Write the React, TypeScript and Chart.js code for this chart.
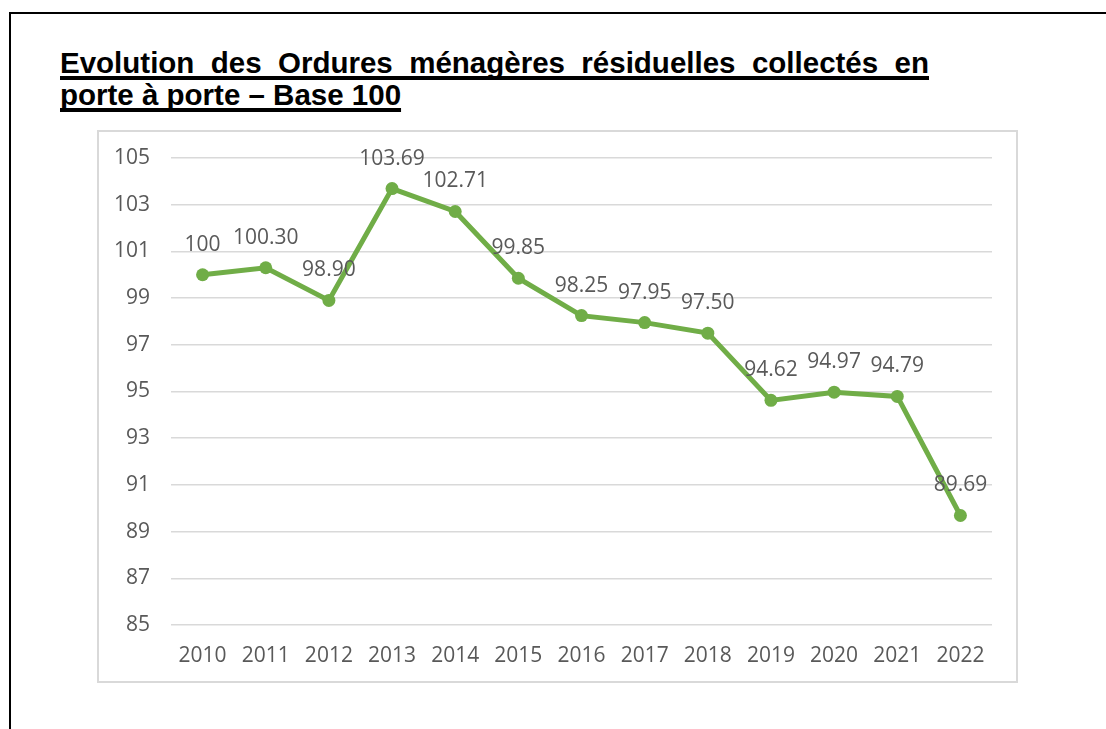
import React, { useEffect, useRef } from "react";
import { Chart, registerables } from "chart.js";

Chart.register(...registerables);

const years = ["2010", "2011", "2012", "2013", "2014", "2015", "2016", "2017", "2018", "2019", "2020", "2021", "2022"];
const values = [100, 100.3, 98.9, 103.69, 102.71, 99.85, 98.25, 97.95, 97.5, 94.62, 94.97, 94.79, 89.69];
const valueLabels = ["100", "100.30", "98.90", "103.69", "102.71", "99.85", "98.25", "97.95", "97.50", "94.62", "94.97", "94.79", "89.69"];
const yTicks = [85, 87, 89, 91, 93, 95, 97, 99, 101, 103, 105];

const TITLE = "Evolution des Ordures ménagères résiduelles collectés en porte à porte – Base 100";
const FONT = '"Open Sans", "Noto Sans", sans-serif';
const TEXT_COLOR = "#595959";

const dataLabelPlugin = {
  id: "dataLabels",
  afterDatasetsDraw(chart: any) {
    const ctx = chart.ctx;
    const meta = chart.getDatasetMeta(0);
    ctx.save();
    ctx.font = `21px ${FONT}`;
    ctx.fillStyle = TEXT_COLOR;
    ctx.textAlign = "center";
    ctx.textBaseline = "middle";
    meta.data.forEach((pt: any, i: number) => {
      ctx.fillText(valueLabels[i], pt.x, pt.y - 30);
    });
    ctx.restore();
  },
};

export default function App() {
  const canvasRef = useRef<HTMLCanvasElement | null>(null);

  useEffect(() => {
    const canvas = canvasRef.current;
    if (!canvas) return;
    const chart = new Chart(canvas, {
      type: "line",
      data: {
        labels: years,
        datasets: [
          {
            data: values,
            borderColor: "#70ad47",
            backgroundColor: "#70ad47",
            borderWidth: 5,
            pointRadius: 6.5,
            pointBackgroundColor: "#70ad47",
            pointBorderColor: "#70ad47",
            pointBorderWidth: 0,
            tension: 0,
            clip: false as any,
          },
        ],
      },
      options: {
        animation: false,
        responsive: true,
        maintainAspectRatio: false,
        layout: { padding: { left: 0, right: 24, top: 26, bottom: 0 } },
        plugins: {
          legend: { display: false },
          tooltip: { enabled: false },
          title: { display: false },
        },
        scales: {
          x: {
            offset: true,
            grid: { display: false, drawTicks: false },
            border: { display: false },
            afterFit: (axis: any) => {
              axis.height = 56;
            },
            ticks: {
              color: TEXT_COLOR,
              font: { family: FONT, size: 21 },
              padding: 18,
              maxRotation: 0,
              autoSkip: false,
            },
          },
          y: {
            min: 85,
            max: 105,
            afterBuildTicks: (axis: any) => {
              axis.ticks = yTicks.map((v) => ({ value: v }));
            },
            afterFit: (axis: any) => {
              axis.width = 72;
              axis.paddingTop = 0;
              axis.paddingBottom = 0;
            },
            grid: { color: "#d9d9d9", lineWidth: 1.5, drawTicks: false },
            border: { display: false },
            ticks: {
              color: TEXT_COLOR,
              font: { family: FONT, size: 21 },
              padding: 21,
            },
          },
        },
      },
      plugins: [dataLabelPlugin],
    });
    return () => chart.destroy();
  }, []);

  return (
    <div style={{ position: "fixed", left: 0, top: 0, width: 1106, height: 729, background: "#fff", overflow: "hidden" }}>
      <div
        style={{
          position: "absolute",
          left: 9,
          top: 12,
          width: 1200,
          height: 800,
          borderTop: "2px solid #000",
          borderLeft: "2px solid #000",
        }}
      />
      <div
        style={{
          position: "absolute",
          left: 60,
          top: 47,
          width: 869,
          fontFamily: '"Liberation Sans", Arial, sans-serif',
          fontWeight: "bold",
          fontSize: "29.5px",
          lineHeight: "32px",
          textAlign: "justify",
          textDecorationLine: "underline",
          textDecorationThickness: "3.5px",
          textUnderlineOffset: "3px",
          textDecorationSkipInk: "none",
          color: "#000",
        } as any}
      >
        {TITLE}
      </div>
      <div
        style={{
          position: "absolute",
          left: 97,
          top: 130,
          width: 917,
          height: 549,
          border: "2px solid #d9d9d9",
        }}
      >
        <canvas ref={canvasRef} />
      </div>
    </div>
  );
}
